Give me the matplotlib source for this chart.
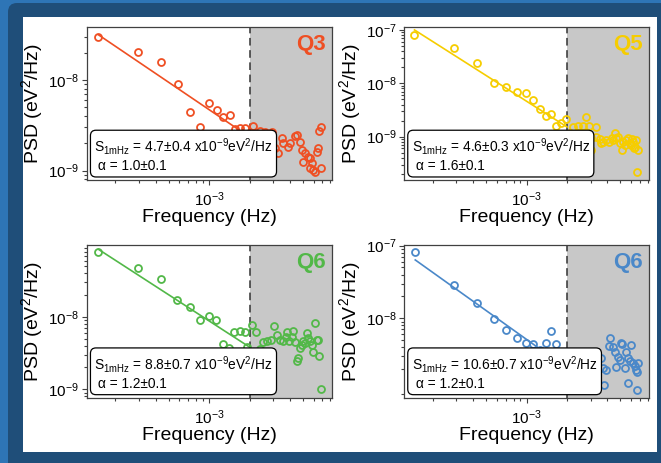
import numpy as np
import matplotlib
matplotlib.use('Agg')
import matplotlib.pyplot as plt
from matplotlib.patches import FancyBboxPatch, Rectangle
from matplotlib.transforms import IdentityTransform
from matplotlib.ticker import LogLocator, NullFormatter, FixedLocator

plt.rcParams['font.family'] = 'Liberation Sans'
plt.rcParams['mathtext.fontset'] = 'custom'
plt.rcParams['mathtext.rm'] = 'Liberation Sans'
plt.rcParams['mathtext.it'] = 'Liberation Sans:italic'
plt.rcParams['mathtext.bf'] = 'Liberation Sans:bold'

# --- data (frequency in mHz, PSD in 1e-9 eV^2/Hz) ---
freq_q3 = [0.149, 0.295, 0.436, 0.581, 0.717, 0.861, 1.00, 1.15, 1.27, 1.43,
           1.56, 1.70, 1.86, 2.11, 2.39, 2.60, 2.92, 3.09, 3.27, 3.47,
           3.57, 3.89, 4.00, 4.36, 4.48, 4.75, 4.89, 5.03, 5.18, 5.48,
           5.64, 5.64, 5.80, 5.97, 6.15, 6.40, 6.51, 6.62, 6.77, 6.77]
psd_q3 = [30.1, 20.5, 15.9, 8.96, 4.40, 3.01, 5.53, 4.67, 3.87, 4.11,
          2.86, 2.93, 2.93, 3.11, 2.76, 2.69, 2.69, 1.76, 1.55, 2.28,
          2.00, 1.84, 2.00, 2.41, 2.47, 2.09, 1.69, 1.26, 1.55, 1.43,
          1.37, 1.06, 1.20, 1.02, 0.975, 1.62, 1.76, 2.76, 3.05, 1.06]

freq_q5 = [0.146, 0.287, 0.428, 0.567, 0.705, 0.847, 0.983, 1.11, 1.25, 1.39,
           1.53, 1.66, 1.79, 1.95, 2.09, 2.22, 2.42, 2.63, 2.76, 2.92,
           3.27, 3.04, 3.04, 3.31, 3.51, 3.71, 3.93, 4.29, 4.54, 4.67,
           4.94, 5.09, 5.23, 5.54, 5.87, 6.22, 6.40, 6.58, 6.77, 6.66,
           3.60, 4.10, 4.40, 4.80, 5.40, 5.70, 6.00, 6.30, 6.10]
psd_q5 = [80.5, 46.6, 24.4, 10.0, 8.41, 6.98, 6.49, 4.87, 3.25, 2.44,
          2.62, 1.58, 1.83, 2.11, 1.15, 1.54, 1.58, 1.58, 2.37, 1.58,
          1.54, 0.93, 0.56, 1.00, 0.89, 0.81, 0.87, 0.93, 1.15, 0.93,
          0.75, 0.56, 0.81, 0.87, 0.75, 0.81, 0.65, 0.87, 0.56, 0.22,
          0.75, 0.80, 0.85, 0.97, 0.70, 0.95, 0.70, 0.60, 0.92]

freq_q6a = [0.149, 0.292, 0.436, 0.577, 0.717, 0.852, 1.00, 1.13, 1.27, 1.41,
            1.54, 1.69, 1.85, 1.93, 2.09, 2.23, 2.39, 2.53, 2.68, 2.87,
            3.04, 3.18, 3.37, 3.53, 3.71, 3.82, 3.95, 4.12, 4.24, 4.36,
            4.48, 4.57, 4.75, 4.89, 5.03, 5.18, 5.33, 5.48, 5.64, 5.80,
            5.97, 6.15, 6.33, 6.51, 6.62, 6.77]
psd_q6a = [79.1, 47.9, 33.7, 16.9, 13.6, 8.99, 10.4, 8.99, 4.22, 3.71,
           6.19, 6.32, 6.12, 3.79, 7.83, 6.12, 3.59, 4.50, 4.59, 4.84,
           7.58, 5.69, 4.84, 4.59, 5.22, 6.12, 4.59, 5.22, 6.32, 4.50,
           2.47, 2.70, 3.71, 4.13, 4.59, 4.35, 6.00, 5.11, 4.59, 4.13,
           3.23, 8.26, 4.84, 4.84, 2.90, 1.00]

freq_q6b = [0.148, 0.290, 0.428, 0.567, 0.705, 0.847, 0.983, 1.11, 1.25, 1.39,
            1.53, 1.66, 1.79, 2.46, 3.61, 3.71, 3.93, 3.76, 4.16, 4.12,
            4.37, 4.54, 4.67, 4.80, 4.94, 5.03, 5.17, 5.39, 5.54, 5.70,
            5.87, 6.04, 5.70, 6.22, 6.40, 6.49, 6.62, 6.62, 6.77, 2.90, 3.30]
psd_q6b = [82.7, 28.8, 16.1, 9.79, 6.90, 5.31, 4.53, 4.43, 3.67, 4.53,
           6.70, 4.43, 3.30, 3.30, 2.82, 2.05, 1.95, 1.21, 5.42, 4.21,
           4.07, 3.48, 2.10, 2.97, 2.67, 4.62, 4.40, 2.05, 3.48, 2.82,
           2.54, 4.30, 1.28, 2.41, 2.23, 1.91, 1.84, 1.03, 2.41, 3.00, 2.90]

# fitted lines as drawn: S = amp * f^-alpha (f in mHz)
fit_amp = [4.7, 4.6, 8.8, 5.1]
fit_alpha = [1.0, 1.6, 1.2, 1.32]
fit_fmax = 2.0  # mHz, edge of the shaded region

names = ['Q3', 'Q5', 'Q6', 'Q6']
colors = ['#ef4f23', '#f6cd00', '#52b848', '#4a88c9']
s_text = ['4.7\u00b10.4', '4.6\u00b10.3', '8.8\u00b10.7', '10.6\u00b10.7']
a_text = ['1.0\u00b10.1', '1.6\u00b10.1', '1.2\u00b10.1', '1.2\u00b10.1']
freqs = [freq_q3, freq_q5, freq_q6a, freq_q6b]
psds = [psd_q3, psd_q5, psd_q6a, psd_q6b]

ylims = [(7.89e-10, 3.81e-8), (1.54e-10, 1.12e-7), (7.64e-10, 9.9e-8), (8.05e-10, 1.02e-7)]
yticks = [[1e-9, 1e-8], [1e-9, 1e-8, 1e-7], [1e-9, 1e-8], [1e-8, 1e-7]]
xlim = (1.22e-4, 8.2e-3)

W, H = 661, 463
fig = plt.figure(figsize=(W / 100, H / 100), dpi=100)
fig.patch.set_facecolor('#2e75b6')

# blue frame and white panel (pixels)
fig.add_artist(FancyBboxPatch((8, -20), 700, H - 3 + 20,
                              boxstyle='round,pad=0,rounding_size=9',
                              transform=IdentityTransform(),
                              facecolor='#1f4e79', edgecolor='none', zorder=-10))
fig.add_artist(Rectangle((23, H - 452), 657 - 23, 452 - 17,
                         transform=IdentityTransform(),
                         facecolor='white', edgecolor='none', zorder=-9))

# axes boxes in pixels: left, top, right, bottom
rects = [(86.7, 27.3, 331.7, 180.0), (404.0, 27.3, 649.3, 180.0),
         (86.7, 245.0, 331.7, 397.7), (404.0, 245.0, 649.3, 397.7)]

for i in range(4):
    x0, y0, x1, y1 = rects[i]
    ax = fig.add_axes([x0 / W, 1 - y1 / H, (x1 - x0) / W, (y1 - y0) / H])
    ax.set_xscale('log')
    ax.set_yscale('log')
    c = colors[i]

    ax.axvspan(fit_fmax * 1e-3, xlim[1], color='#c8c8c8', lw=0, zorder=0)
    ax.axvline(fit_fmax * 1e-3, color='#333333', lw=1.1, ls=(0, (5, 3)), zorder=1)

    f = np.array(freqs[i])
    s = np.array(psds[i])
    fl = np.array([f[0], fit_fmax])
    ax.plot(fl * 1e-3, fit_amp[i] * fl ** (-fit_alpha[i]) * 1e-9, color=c, lw=1.2, zorder=2)
    ax.plot(f * 1e-3, s * 1e-9, 'o', mfc='none', mec=c, ms=5.0, mew=1.3, ls='none', zorder=3)

    label = ('S$_{\\mathrm{1mHz}}$ = ' + s_text[i] + ' x10$^{\\mathrm{-9}}$eV$^{\\mathrm{2}}$/Hz\n'
             + ' \u03b1 = ' + a_text[i])
    ax.text(0.031, 0.045, label, transform=ax.transAxes, fontsize=9.9,
            ha='left', va='bottom', linespacing=1.15, zorder=5,
            bbox=dict(boxstyle='round,pad=0.28,rounding_size=0.4',
                      fc='white', ec='black', lw=0.9))
    ax.text(0.975, 0.885, names[i], transform=ax.transAxes, ha='right', va='center',
            fontsize=16, fontweight='bold', color=c, zorder=6)

    ax.set_xlim(xlim)
    ax.set_ylim(ylims[i])
    ax.xaxis.set_major_locator(FixedLocator([1e-3]))
    ax.xaxis.set_minor_locator(LogLocator(base=10, subs=np.arange(2, 10)))
    ax.xaxis.set_minor_formatter(NullFormatter())
    ax.yaxis.set_major_locator(FixedLocator(yticks[i]))
    ax.yaxis.set_minor_locator(LogLocator(base=10, subs=np.arange(2, 10)))
    ax.yaxis.set_minor_formatter(NullFormatter())

    ax.tick_params(which='both', direction='out', color='#404040', width=0.8,
                   labelsize=11, top=False, right=False, pad=2)
    ax.tick_params(axis='x', which='major', pad=4)
    ax.tick_params(which='major', length=3.5)
    ax.tick_params(which='minor', length=2)
    for sp in ax.spines.values():
        sp.set_color('#404040')
        sp.set_linewidth(0.9)

    ax.set_xlabel('Frequency (Hz)', fontsize=14, labelpad=0)
    ax.set_ylabel('PSD (eV$^{2}$/Hz)', fontsize=14, labelpad=2)

fig.savefig('out.png', dpi=100)
